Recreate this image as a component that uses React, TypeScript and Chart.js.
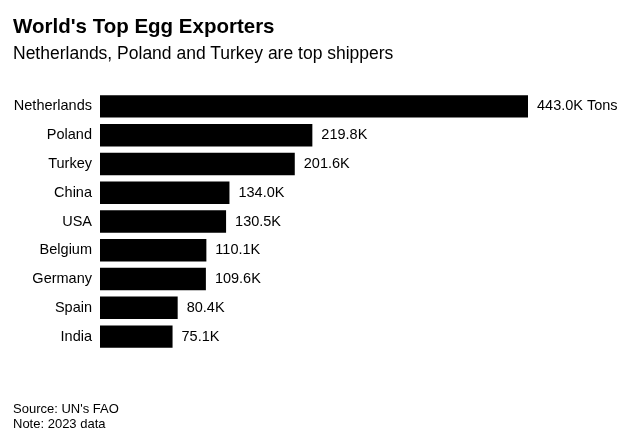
import React, { useEffect, useRef } from "react";
import { Chart, registerables } from "chart.js";

Chart.register(...registerables);

const categories = ["Netherlands", "Poland", "Turkey", "China", "USA", "Belgium", "Germany", "Spain", "India"];
const exportsK = [443.0, 219.8, 201.6, 134.0, 130.5, 110.1, 109.6, 80.4, 75.1];
const valueLabels = exportsK.map((v, i) => v.toFixed(1) + "K" + (i === 0 ? " Tons" : ""));

const titleText = "World's Top Egg Exporters";
const subtitleText = "Netherlands, Poland and Turkey are top shippers";
const sourceText = "Source: UN's FAO";
const noteText = "Note: 2023 data";

const FONT = "'Liberation Sans', Arial, Helvetica, sans-serif";

const valueLabelPlugin = {
  id: "valueLabels",
  afterDatasetsDraw(chart: any) {
    const ctx = chart.ctx;
    const meta = chart.getDatasetMeta(0);
    ctx.save();
    ctx.font = `14.5px ${FONT}`;
    ctx.fillStyle = "#000";
    ctx.textBaseline = "middle";
    ctx.textAlign = "left";
    meta.data.forEach((bar: any, i: number) => {
      ctx.fillText(valueLabels[i], bar.x + 9, bar.y);
    });
    ctx.restore();
  },
};

export default function App() {
  const canvasRef = useRef<HTMLCanvasElement | null>(null);

  useEffect(() => {
    if (!canvasRef.current) return;
    const chart = new Chart(canvasRef.current, {
      type: "bar",
      data: {
        labels: categories,
        datasets: [
          {
            data: exportsK,
            backgroundColor: "#000000",
            borderWidth: 0,
            categoryPercentage: 1,
            barPercentage: 0.78,
          },
        ],
      },
      options: {
        indexAxis: "y",
        animation: false,
        responsive: false,
        maintainAspectRatio: false,
        layout: { padding: { top: 92, bottom: 84, left: 0, right: 111 } },
        plugins: {
          legend: { display: false },
          tooltip: { enabled: false },
          title: { display: false },
        },
        scales: {
          x: {
            display: false,
            min: 0,
            max: 443,
          },
          y: {
            grid: { display: false, drawTicks: false },
            border: { display: false },
            ticks: {
              color: "#000",
              padding: 8,
              font: { family: FONT, size: 14.5 },
            },
            afterFit(scale: any) {
              scale.width = 100;
            },
          },
        },
      },
      plugins: [valueLabelPlugin],
    });
    return () => chart.destroy();
  }, []);

  const textBase: React.CSSProperties = {
    position: "absolute",
    left: 13,
    fontFamily: FONT,
    color: "#000",
    whiteSpace: "nowrap",
    margin: 0,
  };

  return (
    <div style={{ position: "fixed", left: 0, top: 0, width: 639, height: 435, background: "#fff" }}>
      <canvas ref={canvasRef} width={639} height={435} style={{ position: "absolute", left: 0, top: 0, width: 639, height: 435 }} />
      <div style={{ ...textBase, top: 16, fontSize: 20.5, lineHeight: "20.5px", fontWeight: 700 }}>{titleText}</div>
      <div style={{ ...textBase, top: 45, fontSize: 17.5, lineHeight: "17.5px" }}>{subtitleText}</div>
      <div style={{ ...textBase, top: 402, fontSize: 13, lineHeight: "13px" }}>{sourceText}</div>
      <div style={{ ...textBase, top: 417, fontSize: 13, lineHeight: "13px" }}>{noteText}</div>
    </div>
  );
}
